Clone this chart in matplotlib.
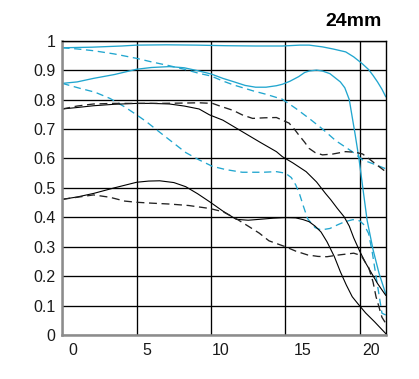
import matplotlib
matplotlib.use('Agg')
import matplotlib.pyplot as plt
import matplotlib.transforms as mtransforms

plt.rcParams['font.family'] = ['Liberation Sans', 'DejaVu Sans']

# ---------------- data ----------------
title = '24mm'
x_ticks = [0, 5, 10, 15, 20]
x_tick_labels = ['0', '5', '10', '15', '20']
y_ticks = [0, 0.1, 0.2, 0.3, 0.4, 0.5, 0.6, 0.7, 0.8, 0.9, 1.0]
y_tick_labels = ['0', '0.1', '0.2', '0.3', '0.4', '0.5', '0.6', '0.7', '0.8', '0.9', '1']

# cyan, solid, top
c1_x = [0, 2, 4, 5, 7, 9, 11, 13, 14.8, 16, 16.6, 17.5, 18.2, 19.06, 19.6, 20.17, 20.6, 20.9, 21.2, 21.5, 21.75]
c1_y = [0.976, 0.978, 0.982, 0.985, 0.986, 0.985, 0.983, 0.982, 0.982, 0.985, 0.985, 0.979, 0.972, 0.962, 0.945, 0.922, 0.902, 0.882, 0.86, 0.835, 0.81]
# cyan, dashed, top
c2_x = [0, 1, 2.1, 3.5, 5, 6, 7.2, 8.2, 9.2, 10, 10.8, 11.5, 12.8, 13.7, 14.8, 15.7, 16.6, 17.5, 18.4, 19.5, 20.2, 21, 21.75]
c2_y = [0.976, 0.972, 0.966, 0.955, 0.94, 0.928, 0.915, 0.903, 0.889, 0.88, 0.863, 0.85, 0.83, 0.818, 0.801, 0.77, 0.736, 0.70, 0.66, 0.623, 0.595, 0.58, 0.565]
# cyan, solid, middle
c3_x = [0, 1, 2.1, 3.5, 5, 6, 7.2, 8.2, 9.2, 10, 10.8, 11.5, 12.3, 13, 13.7, 14.4, 14.8, 15.3, 15.9, 16.3, 16.6, 17.1, 17.5, 18, 18.4, 18.7, 19.0, 19.3, 19.5, 19.7, 19.95, 20.5, 20.9, 21.3, 21.75]
c3_y = [0.855, 0.86, 0.872, 0.885, 0.903, 0.909, 0.912, 0.908, 0.897, 0.887, 0.872, 0.861, 0.848, 0.842, 0.842, 0.847, 0.852, 0.862, 0.878, 0.892, 0.897, 0.9, 0.897, 0.888, 0.872, 0.86, 0.84, 0.80, 0.74, 0.68, 0.60, 0.39, 0.29, 0.21, 0.14]
# cyan, dashed, middle
c4_x = [0, 1.2, 2.2, 3.2, 4.2, 5, 5.65, 6.5, 8.3, 9.2, 10.1, 11, 12.1, 12.6, 13.5, 14.4, 15.0, 15.4, 15.7, 15.95, 16.2, 16.5, 17.0, 17.4, 18.0, 18.5, 19.0, 19.55, 20.0, 20.3, 20.6, 20.85, 21.1, 21.5, 21.75]
c4_y = [0.855, 0.838, 0.825, 0.804, 0.775, 0.748, 0.725, 0.691, 0.62, 0.595, 0.573, 0.562, 0.553, 0.553, 0.553, 0.555, 0.55, 0.535, 0.51, 0.48, 0.44, 0.395, 0.365, 0.357, 0.362, 0.374, 0.385, 0.392, 0.388, 0.374, 0.345, 0.28, 0.2, 0.074, 0.068]
# black, solid, upper
b1_x = [0, 1, 2.1, 3.5, 5, 6, 7.2, 8.2, 9.2, 9.9, 10.8, 12.1, 13.3, 14.4, 14.8, 15.5, 16.4, 17.1, 17.7, 18.05, 18.5, 18.95, 19.3, 19.6, 20.0, 20.4, 20.8, 21.2, 21.75]
b1_y = [0.768, 0.773, 0.779, 0.784, 0.787, 0.787, 0.785, 0.778, 0.768, 0.748, 0.73, 0.691, 0.655, 0.623, 0.606, 0.585, 0.555, 0.52, 0.481, 0.46, 0.43, 0.402, 0.37, 0.33, 0.285, 0.245, 0.21, 0.175, 0.135]
# black, dashed, upper
b2_x = [0, 1, 2.1, 3.5, 5, 6.5, 8, 9.2, 10.1, 10.6, 11.5, 12.1, 12.8, 13.6, 14.4, 15.25, 15.6, 15.9, 16.3, 16.6, 17.0, 17.5, 18.2, 19.05, 19.7, 20.2, 20.6, 21.1, 21.75]
b2_y = [0.768, 0.778, 0.785, 0.787, 0.787, 0.787, 0.788, 0.789, 0.787, 0.778, 0.763, 0.748, 0.736, 0.738, 0.739, 0.72, 0.70, 0.68, 0.655, 0.634, 0.62, 0.612, 0.615, 0.623, 0.621, 0.615, 0.6, 0.58, 0.555]
# black, solid, lower
b3_x = [0, 1, 2.1, 3.5, 5, 5.8, 6.55, 7.5, 8.3, 9.1, 9.9, 10.8, 11.7, 12.5, 13.25, 14.2, 15.0, 15.7, 16.2, 16.6, 17.0, 17.4, 17.8, 18.3, 18.7, 19.1, 19.5, 19.9, 20.4, 21.0, 21.75]
b3_y = [0.461, 0.469, 0.481, 0.50, 0.519, 0.523, 0.524, 0.518, 0.504, 0.48, 0.453, 0.421, 0.393, 0.39, 0.393, 0.397, 0.399, 0.398, 0.392, 0.385, 0.37, 0.35, 0.317, 0.266, 0.215, 0.17, 0.13, 0.105, 0.075, 0.045, 0.005]
# black, dashed, lower
b4_x = [0, 1, 2.1, 3.2, 4.2, 5, 6, 7.2, 8.5, 9.9, 10.8, 11.7, 12.5, 13.25, 13.9, 15.0, 15.7, 16.5, 17.2, 17.8, 18.6, 19.6, 20.1, 20.4, 20.6, 20.9, 21.1, 21.3, 21.5, 21.75]
b4_y = [0.461, 0.468, 0.476, 0.468, 0.455, 0.451, 0.448, 0.445, 0.44, 0.43, 0.419, 0.395, 0.37, 0.346, 0.32, 0.30, 0.285, 0.272, 0.267, 0.266, 0.272, 0.278, 0.27, 0.245, 0.23, 0.18, 0.13, 0.095, 0.06, 0.04]

# ---------------- styling ----------------
CYAN = '#21a6cf'
fig = plt.figure(figsize=(4.19, 3.79), dpi=100)
ax = fig.add_axes([0.1487, 0.1161, 0.7718, 0.7765])

ax.plot(c1_x, c1_y, color=CYAN, lw=0.95)
ax.plot(c2_x, c2_y, color=CYAN, lw=0.95, dashes=(5.5, 3.5))
ax.plot(c3_x, c3_y, color=CYAN, lw=0.95)
ax.plot(c4_x, c4_y, color=CYAN, lw=0.95, dashes=(5.5, 3.5))
ax.plot(b1_x, b1_y, color='black', lw=0.8)
ax.plot(b2_x, b2_y, color='#222222', lw=0.95, dashes=(6, 3.5))
ax.plot(b3_x, b3_y, color='black', lw=0.8)
ax.plot(b4_x, b4_y, color='#222222', lw=0.95, dashes=(6, 3.5))

ax.set_xlim(0, 21.75)
ax.set_ylim(0, 1)
ax.set_xticks(x_ticks)
ax.set_xticklabels(x_tick_labels)
ax.set_yticks(y_ticks)
ax.set_yticklabels(y_tick_labels)
ax.tick_params(axis='both', length=0, labelsize=11.5, colors='#1a1a1a')
ax.tick_params(axis='y', pad=5)
ax.tick_params(axis='x', pad=6)
ax.grid(True, color='black', lw=0.95)
ax.set_axisbelow(True)

for side in ('left', 'bottom'):
    ax.spines[side].set_color('#8c8c8c')
    ax.spines[side].set_linewidth(1.8)
for side in ('top', 'right'):
    ax.spines[side].set_color('black')
    ax.spines[side].set_linewidth(1.0)

# tick labels in the reference sit to the right of their grid lines
offsets_px = [11, 10, 10, 17, 11]
for lab, off in zip(ax.get_xticklabels(), offsets_px):
    lab.set_transform(lab.get_transform() + mtransforms.ScaledTranslation(off / 100.0, 0, fig.dpi_scale_trans))

fig.text(0.9117, 0.943, title, ha='right', va='center', fontweight='bold', fontsize=14, color='black')

fig.savefig('out.png', dpi=100)
